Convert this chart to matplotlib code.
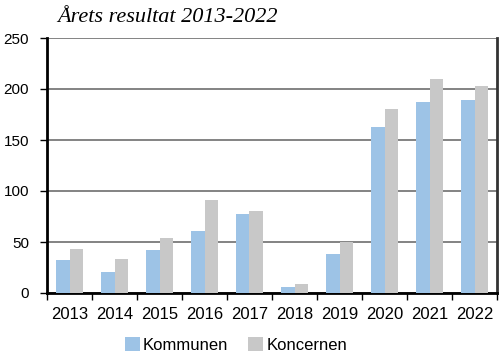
import numpy as np
import matplotlib.pyplot as plt

# data
years = ['2013', '2014', '2015', '2016', '2017', '2018', '2019', '2020', '2021', '2022']
kommunen = [32, 21, 42, 61, 77, 6, 38, 163, 187, 189]
koncernen = [43, 33, 54, 91, 80, 9, 50, 180, 210, 203]

fig = plt.figure(figsize=(5.03, 3.53), dpi=100)
ax = fig.add_axes([47 / 503, 1 - 293 / 353, 450 / 503, 255 / 353])

x = np.arange(len(years))
w = 0.29
ax.bar(x - w / 2, kommunen, w, color='#9dc3e6', label='Kommunen', zorder=3)
ax.bar(x + w / 2, koncernen, w, color='#c8c8c8', label='Koncernen', zorder=3)

ax.set_xlim(-0.5, len(years) - 0.5)
ax.set_ylim(0, 250)
ax.set_yticks([0, 50, 100, 150, 200, 250])
ax.grid(axis='y', color='#6e6e6e', linewidth=1.2, zorder=0)

# category labels centred, ticks on the boundaries
ax.set_xticks(x)
ax.set_xticklabels(years, fontsize=12, family='Liberation Sans')
ax.tick_params(axis='x', length=0, pad=10)
ax.set_xticks(np.arange(-0.5, len(years)), minor=True)
ax.tick_params(axis='x', which='minor', length=5, width=1, direction='out')
ax.tick_params(axis='y', length=5, width=1, labelsize=11, pad=8)
for lab in ax.get_yticklabels():
    lab.set_family('Liberation Sans')

ax.spines['top'].set_visible(False)
ax.spines['left'].set_linewidth(2)
ax.spines['bottom'].set_linewidth(2)
ax.spines['right'].set_linewidth(2)
ax.spines['right'].set_color('#333333')

fig.text(57 / 503, 1 - 17 / 353, 'Årets resultat 2013-2022', fontsize=16,
         style='italic', family='Liberation Serif', va='center', ha='left')

ax.legend(loc='lower center', bbox_to_anchor=(0.42, -0.26), ncol=2, frameon=False,
          prop={'family': 'Liberation Sans', 'size': 12}, handlelength=0.9,
          handleheight=0.9, handletextpad=0.2, columnspacing=1.2, borderaxespad=0)

plt.savefig('out.png', dpi=100)
